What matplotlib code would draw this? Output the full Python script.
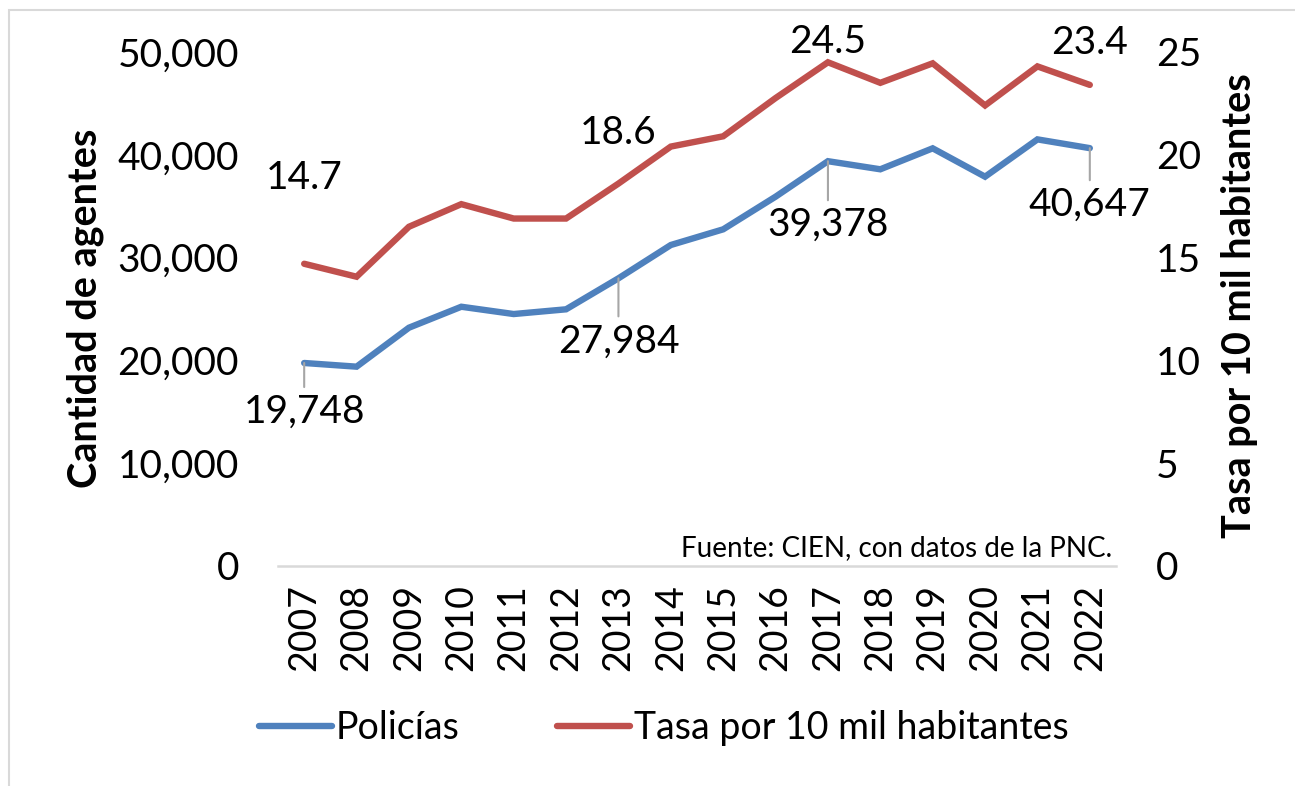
import matplotlib
matplotlib.use("Agg")
import matplotlib.pyplot as plt
from matplotlib.ticker import FuncFormatter
from matplotlib.patches import Rectangle

plt.rcParams['font.family'] = ['Lato', 'DejaVu Sans']

years = [str(y) for y in range(2007, 2023)]
policias = [19748, 19390, 23180, 25220, 24510, 24970, 27984, 31225,
            32750, 35925, 39378, 38590, 40630, 37870, 41500, 40647]
tasa = [14.7, 14.07, 16.5, 17.6, 16.9, 16.9, 18.6, 20.4,
        20.9, 22.76, 24.5, 23.5, 24.45, 22.4, 24.3, 23.4]

left_ticks = [0, 10000, 20000, 30000, 40000, 50000]
right_ticks = [0, 5, 10, 15, 20, 25]

blue = '#4F81BD'
red = '#C0504D'

W, H = 1295, 786
fig = plt.figure(figsize=(W / 100, H / 100), dpi=100)
fig.patches.append(Rectangle((9 / W, -0.1), 1.2, 1 - 10 / H + 0.1, transform=fig.transFigure,
                             fill=False, edgecolor='#D9D9D9', linewidth=1.5))

ax = fig.add_axes([278 / W, 1 - 566 / H, (1116 - 278) / W, (566 - 52) / H])
ax2 = ax.twinx()

x = list(range(len(years)))
l1, = ax.plot(x, policias, color=blue, lw=4.6, solid_capstyle='round', solid_joinstyle='miter', label='Policías', zorder=3)
l2, = ax2.plot(x, tasa, color=red, lw=4.6, solid_capstyle='round', solid_joinstyle='miter', label='Tasa por 10 mil habitantes', zorder=3)

ax.set_xlim(-0.5, len(years) - 0.5)
ax.set_ylim(0, 50000)
ax2.set_ylim(0, 25)
ax.set_yticks(left_ticks)
ax2.set_yticks(right_ticks)
ax.yaxis.set_major_formatter(FuncFormatter(lambda v, p: f"{int(v):,}"))
ax2.yaxis.set_major_formatter(FuncFormatter(lambda v, p: f"{int(v)}"))
ax.set_xticks(x)
ax.set_xticklabels(years, rotation=90)

for a in (ax, ax2):
    for s in ('top', 'left', 'right', 'bottom'):
        a.spines[s].set_visible(False)
ax.spines['bottom'].set_visible(True)
ax.spines['bottom'].set_color('#D9D9D9')
ax.spines['bottom'].set_linewidth(1.8)

ax.tick_params(axis='y', length=0, pad=28, labelsize=28)
ax2.tick_params(axis='y', length=0, pad=29, labelsize=28)
ax.tick_params(axis='x', length=0, pad=13, labelsize=27)

fig.text(85 / W, 1 - 308 / H, 'Cantidad de agentes', rotation=90, fontsize=28.5,
         fontweight='bold', ha='center', va='center')
fig.text(1240 / W, 1 - 306 / H, 'Tasa por 10 mil habitantes', rotation=90, fontsize=28.5,
         fontweight='bold', ha='center', va='center')

fig.text(1112 / W, 1 - 548 / H, 'Fuente: CIEN, con datos de la PNC.', fontsize=20,
         ha='right', va='center')

# data labels for rate series
for i, dy in [(0, 86), (6, 51), (10, 20), (15, 42)]:
    ax2.annotate(f"{tasa[i]:.1f}", (x[i], tasa[i]), xytext=(0, dy), textcoords='offset pixels',
                 ha='center', va='center', fontsize=28, zorder=4)

# data labels for police series, with leader lines
for i, dy in [(0, -49), (6, -63), (10, -64), (15, -57)]:
    ax.annotate(f"{policias[i]:,}", (x[i], policias[i]), xytext=(0, dy), textcoords='offset pixels',
                ha='center', va='center', fontsize=28, zorder=4,
                arrowprops=dict(arrowstyle='-', color='#A6A6A6', lw=1.5, shrinkA=3, shrinkB=0))

leg = fig.legend([l1, l2], ['Policías', 'Tasa por 10 mil habitantes'], loc='center',
                 bbox_to_anchor=(664 / W, 1 - 728 / H), ncol=2, frameon=False, fontsize=27,
                 handlelength=1.95, handletextpad=0.1, columnspacing=2.6)

fig.savefig('out.png', dpi=100)
